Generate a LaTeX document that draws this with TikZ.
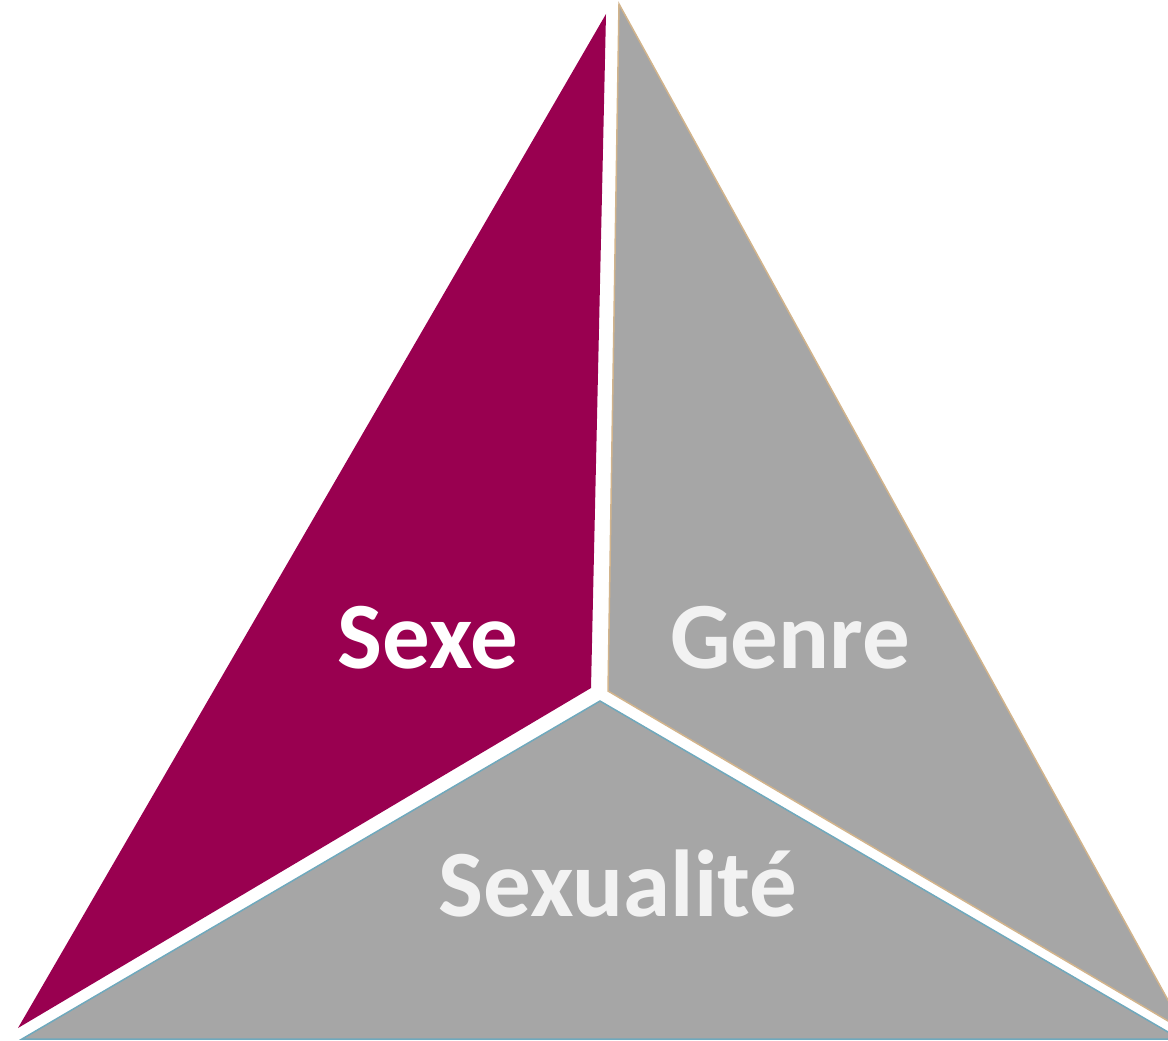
\documentclass[tikz,border=0pt]{standalone}
\usepackage{fontspec}
\setmainfont{Carlito}
\definecolor{magentaA}{HTML}{990050}
\definecolor{grayA}{HTML}{A6A6A6}
\definecolor{tanA}{HTML}{D2B48C}
\definecolor{blueA}{HTML}{6FA9BD}
\definecolor{textG}{HTML}{F2F2F2}
\begin{document}
\begin{tikzpicture}[x=1pt,y=-1pt,
  lbl/.style={font=\bfseries\fontsize{95}{100}\selectfont, inner sep=0pt, anchor=base}]
\useasboundingbox (0,0) rectangle (1168,1041);
\clip (0,0) rectangle (1168,1041);
% magenta piece
\fill[magentaA] (606,14) -- (591,688) -- (18,1028) -- cycle;
% right gray piece
\filldraw[fill=grayA, draw=tanA, line width=1.5pt] (619,4) -- (608,691) -- (1185,1031) -- cycle;
% bottom gray piece
\filldraw[fill=grayA, draw=blueA, line width=1.5pt] (600,701) -- (22,1039) -- (1180,1039) -- cycle;
% labels
\node[lbl, text=white] (sexe) at (428,668) {Sexe};
\node[lbl, text=textG] (genre) at (790,668) {Genre};
\node[lbl, text=textG] (sexualite) at (618,916) {Sexualité};
\end{tikzpicture}
\end{document}
